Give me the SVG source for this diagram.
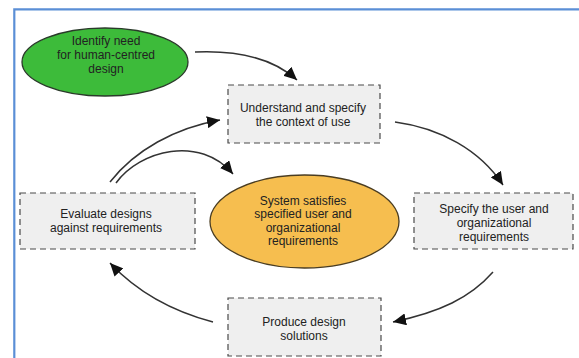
<svg xmlns="http://www.w3.org/2000/svg" width="579" height="358" viewBox="0 0 579 358">
<style>
text{font-family:"Liberation Sans",Arial,sans-serif;font-size:12px;fill:#222;text-anchor:middle}
.box{fill:#efefef;stroke:#4a4a4a;stroke-width:1.2;stroke-dasharray:6,4}
.conn{fill:none;stroke:#333;stroke-width:1.5;marker-end:url(#ah)}
</style>
<defs>
<marker id="ah" markerUnits="userSpaceOnUse" markerWidth="14" markerHeight="12" refX="13" refY="6" orient="auto">
<path d="M0,0 L13,6 L0,12 z" fill="#111"/>
</marker>
</defs>
<rect width="579" height="358" fill="#fff"/>
<path d="M14.3,358 L14.3,9.3 L579,9.3" fill="none" stroke="#5b8fd6" stroke-width="2.2"/>

<g id="identify">
<ellipse cx="105" cy="62" rx="83" ry="34" fill="#3dbb3a" stroke="#2a3a2a" stroke-width="1.3"/>
<text x="106" y="44.5">Identify need</text>
<text x="106" y="58.5">for human-centred</text>
<text x="106" y="72.5">design</text>
</g>

<g id="understand">
<rect class="box" x="228" y="85" width="152" height="58"/>
<text x="303" y="111.5">Understand and specify</text>
<text x="303" y="125.5">the context of use</text>
</g>

<g id="specify">
<rect class="box" x="414" y="193" width="159" height="56"/>
<text x="494" y="212.5">Specify the user and</text>
<text x="494" y="226.5">organizational</text>
<text x="494" y="240.5">requirements</text>
</g>

<g id="produce">
<rect class="box" x="228" y="298" width="153" height="58"/>
<text x="304" y="325.5">Produce design</text>
<text x="304" y="339.5">solutions</text>
</g>

<g id="evaluate">
<rect class="box" x="20" y="193" width="175" height="56"/>
<text x="106" y="217.5">Evaluate designs</text>
<text x="106" y="231.5">against requirements</text>
</g>

<g id="satisfies">
<ellipse cx="304.5" cy="221.5" rx="94.5" ry="46.5" fill="#f6be4f" stroke="#4a3d22" stroke-width="1.3"/>
<text x="303" y="204.5">System satisfies</text>
<text x="303" y="218">specified user and</text>
<text x="303" y="231.5">organizational</text>
<text x="303" y="245">requirements</text>
</g>

<g id="connectors">
<path class="conn" d="M195,52 C240,50 275,60 297,80"/>
<path class="conn" d="M395,122 C440,128 480,150 503,185"/>
<path class="conn" d="M493,272 C470,298 440,312 393,322"/>
<path class="conn" d="M213,322 C175,312 140,295 110,263"/>
<path class="conn" d="M110,182 C135,150 175,128 220,120"/>
<path class="conn" d="M116,183 C140,150 200,135 233,174"/>
</g>
</svg>
